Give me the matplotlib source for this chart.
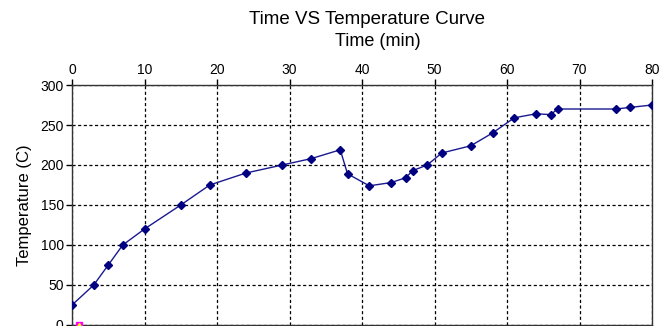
import numpy as np
import matplotlib
matplotlib.use("Agg")
import matplotlib.pyplot as plt

plt.rcParams['font.family'] = ['Liberation Sans', 'DejaVu Sans']

# time (min) and temperature (C)
time_min = [0, 3, 5, 7, 10, 15, 19, 24, 29, 33, 37, 38, 41, 44, 46, 47, 49,
            51, 55, 58, 61, 64, 66, 67, 75, 77, 80]
temp_c = [25, 50, 75, 100, 120, 150, 175, 190, 200, 208, 219, 189, 174, 178,
          184, 193, 200, 215, 224, 240, 259, 264, 263, 270, 270, 272, 275]

# the stray points sitting on the bottom axis
extra_t = [1]
extra_v = [0]

x_ticks = np.arange(0, 81, 10)
y_ticks = np.arange(0, 301, 50)

fig = plt.figure(figsize=(6.61, 3.26), dpi=100)
ax = fig.add_axes([72/661, 1/326, 580/661, 240/326])

ax.plot(time_min, temp_c, color='#1a1a90', lw=1, marker='D', ms=4.5,
        mec='#000080', mfc='#000080', zorder=3)
ax.plot(extra_t, extra_v, ls='none', marker='s', ms=5, mfc='#ff00ff',
        mec='#ff00ff', zorder=4, clip_on=False)
ax.plot(extra_t, extra_v, ls='none', marker='^', ms=3, mfc='#ffff00',
        mec='#ffff00', zorder=5, clip_on=False)

ax.set_xlim(0, 80)
ax.set_ylim(0, 300)
ax.set_xticks(x_ticks)
ax.set_yticks(y_ticks)
ax.xaxis.tick_top()
ax.tick_params(labelsize=10, length=4, width=1, color='black', pad=2)

ax.grid(True, color='black', ls=(0, (2.5, 2)), lw=0.9)
ax.set_axisbelow(True)
for s in ax.spines.values():
    s.set_color('#333333')
    s.set_linewidth(1)

ax.set_ylabel('Temperature (C)', fontsize=12, labelpad=6)
fig.text(378/661, 1 - 41/326, 'Time (min)', fontsize=13,
         ha='center', va='center')
fig.text(367/661, 1 - 19/326, 'Time VS Temperature Curve', fontsize=13.5,
         ha='center', va='center')

fig.savefig('out.png', dpi=100)
